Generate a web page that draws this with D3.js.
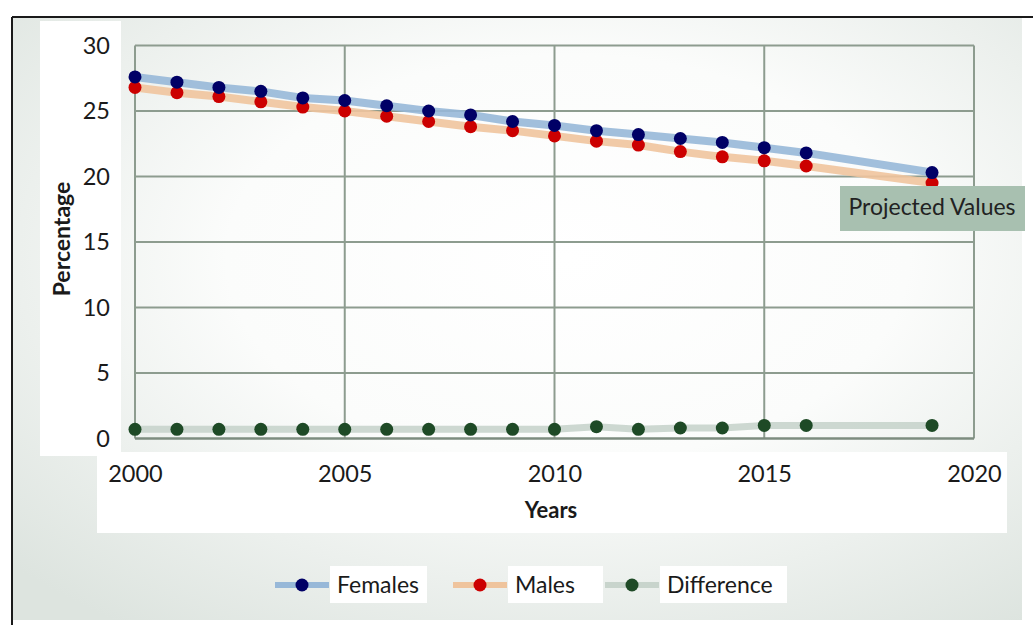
<!DOCTYPE html>
<html>
<head>
<meta charset="utf-8">
<script src="https://cdn.jsdelivr.net/npm/d3@7"></script>
<style>
  body { margin: 0; background: #fff; }
  svg { display: block; font-family: Lato, "Open Sans", sans-serif; }
</style>
</head>
<body>
<div id="chart"></div>
<script>
// ---- Data ----
const years = [2000, 2001, 2002, 2003, 2004, 2005, 2006, 2007, 2008, 2009,
               2010, 2011, 2012, 2013, 2014, 2015, 2016, 2019];
const females = [27.6, 27.2, 26.8, 26.5, 26.0, 25.8, 25.4, 25.0, 24.7, 24.2,
                 23.9, 23.5, 23.2, 22.9, 22.6, 22.2, 21.8, 20.3];
const males = [26.8, 26.4, 26.1, 25.7, 25.3, 25.0, 24.6, 24.2, 23.8, 23.5,
               23.1, 22.7, 22.4, 21.9, 21.5, 21.2, 20.8, 19.5];
const difference = [0.7, 0.7, 0.7, 0.7, 0.7, 0.7, 0.7, 0.7, 0.7, 0.7,
                    0.7, 0.9, 0.7, 0.8, 0.8, 1.0, 1.0, 1.0];
const xTicks = [2000, 2005, 2010, 2015, 2020];
const yTicks = [0, 5, 10, 15, 20, 25, 30];

const seriesNames = ["Females", "Males", "Difference"];
const lineColors = { Females: "#97b8d8", Males: "#efc49d", Difference: "#c8d4cc" };
const dotColors = { Females: "#000066", Males: "#cc0000", Difference: "#1e4a26" };
const lineWidths = { Females: 8, Males: 8, Difference: 7 };

const width = 1033, height = 625;

const svg = d3.select("#chart").append("svg")
    .attr("width", width)
    .attr("height", height);

// ---- Background ----
const defs = svg.append("defs");
const grad = defs.append("radialGradient")
    .attr("id", "bg")
    .attr("cx", "55%").attr("cy", "40%").attr("r", "75%");
grad.append("stop").attr("offset", "0%").attr("stop-color", "#ffffff");
grad.append("stop").attr("offset", "45%").attr("stop-color", "#fbfcfb");
grad.append("stop").attr("offset", "100%").attr("stop-color", "#dde4df");

svg.append("rect")
    .attr("x", 12).attr("y", 17)
    .attr("width", 1010).attr("height", 603)
    .attr("fill", "url(#bg)");

// frame lines (top and left)
svg.append("line")
    .attr("x1", 12).attr("x2", width).attr("y1", 17).attr("y2", 17)
    .attr("stroke", "#1a1a1a").attr("stroke-width", 2);
svg.append("line")
    .attr("x1", 12).attr("x2", 12).attr("y1", 17).attr("y2", height)
    .attr("stroke", "#1a1a1a").attr("stroke-width", 2);

// white label panels
svg.append("rect").attr("x", 40).attr("y", 21).attr("width", 81).attr("height", 435).attr("fill", "#fff");
svg.append("rect").attr("x", 97).attr("y", 452).attr("width", 910).attr("height", 81).attr("fill", "#fff");

// ---- Scales ----
const xScale = d3.scaleLinear().domain([2000, 2020]).range([135, 974]);
const yScale = d3.scaleLinear().domain([0, 30]).range([438.5, 45.5]);

// ---- Grid ----
const grid = svg.append("g").attr("class", "grid");
grid.selectAll(".vline")
    .data(xTicks)
    .join("line")
    .attr("x1", d => xScale(d)).attr("x2", d => xScale(d))
    .attr("y1", yScale(30)).attr("y2", yScale(0))
    .attr("stroke", "#8d9c8f").attr("stroke-width", 2);
grid.selectAll(".hline")
    .data(yTicks)
    .join("line")
    .attr("x1", xScale(2000)).attr("x2", xScale(2020))
    .attr("y1", d => yScale(d)).attr("y2", d => yScale(d))
    .attr("stroke", d => d === 0 ? "#7d8c7f" : "#8d9c8f")
    .attr("stroke-width", d => d === 0 ? 2.5 : 2);

// ---- Axes (labels only) ----
const xAxis = svg.append("g")
    .attr("transform", `translate(0,${yScale(0)})`)
    .call(d3.axisBottom(xScale).tickValues(xTicks).tickFormat(d3.format("d")).tickSize(0).tickPadding(27));
const yAxis = svg.append("g")
    .attr("transform", `translate(${xScale(2000) - 25},0)`)
    .call(d3.axisLeft(yScale).tickValues(yTicks).tickSize(0).tickPadding(0));
[xAxis, yAxis].forEach(a => {
    a.select(".domain").remove();
    a.selectAll("text")
        .attr("fill", "#1a1a1a")
        .style("font-size", "23.5px")
        .style("font-family", "Lato, sans-serif");
});

svg.append("text")
    .attr("x", 551).attr("y", 518)
    .attr("text-anchor", "middle")
    .attr("fill", "#1a1a1a")
    .style("font-size", "22px").style("font-weight", "bold")
    .text("Years");

svg.append("text")
    .attr("transform", "rotate(-90)")
    .attr("x", -239).attr("y", 70)
    .attr("text-anchor", "middle")
    .attr("fill", "#1a1a1a")
    .style("font-size", "23px").style("font-weight", "bold")
    .text("Percentage");

// ---- Series ----
const seriesData = {
    Females: years.map((y, i) => ({ year: y, value: females[i] })),
    Males: years.map((y, i) => ({ year: y, value: males[i] })),
    Difference: years.map((y, i) => ({ year: y, value: difference[i] }))
};

const line = d3.line()
    .x(d => xScale(d.year))
    .y(d => yScale(d.value));

["Difference", "Males", "Females"].forEach(name => {
    svg.append("path")
        .datum(seriesData[name])
        .attr("fill", "none")
        .attr("stroke", lineColors[name])
        .attr("stroke-width", lineWidths[name])
        .attr("opacity", 0.9)
        .attr("d", line);
});
["Difference", "Males", "Females"].forEach(name => {
    svg.selectAll(".pt-" + name)
        .data(seriesData[name])
        .join("circle")
        .attr("class", "pt-" + name)
        .attr("cx", d => xScale(d.year))
        .attr("cy", d => yScale(d.value))
        .attr("r", 6.5)
        .attr("fill", dotColors[name]);
});

// ---- Projected Values label ----
const proj = svg.append("g").attr("transform", "translate(840,186)");
proj.append("rect")
    .attr("width", 185).attr("height", 45)
    .attr("fill", "#a8c0b0");
proj.append("text")
    .attr("x", 92).attr("y", 29)
    .attr("text-anchor", "middle")
    .attr("fill", "#222")
    .style("font-size", "23px")
    .text("Projected Values");

// ---- Legend ----
const legendPos = { Females: 275, Males: 453, Difference: 605 };
const legendBox = { Females: 97, Males: 95, Difference: 127 };
const legend = svg.append("g").attr("class", "legend").attr("transform", "translate(0,585)");
const item = legend.selectAll(".legend-item")
    .data(seriesNames)
    .join("g")
    .attr("class", "legend-item")
    .attr("transform", d => `translate(${legendPos[d]},0)`);
item.append("rect")
    .attr("x", 55).attr("y", -19)
    .attr("width", d => legendBox[d]).attr("height", 37)
    .attr("fill", "#fff");
item.append("line")
    .attr("x1", 0).attr("x2", 54)
    .attr("stroke", d => lineColors[d])
    .attr("stroke-width", 6);
item.append("circle")
    .attr("cx", 27).attr("r", 6.5)
    .attr("fill", d => dotColors[d]);
item.append("text")
    .attr("x", 62).attr("y", 8)
    .attr("fill", "#1a1a1a")
    .style("font-size", "23px")
    .text(d => d);
</script>
</body>
</html>
